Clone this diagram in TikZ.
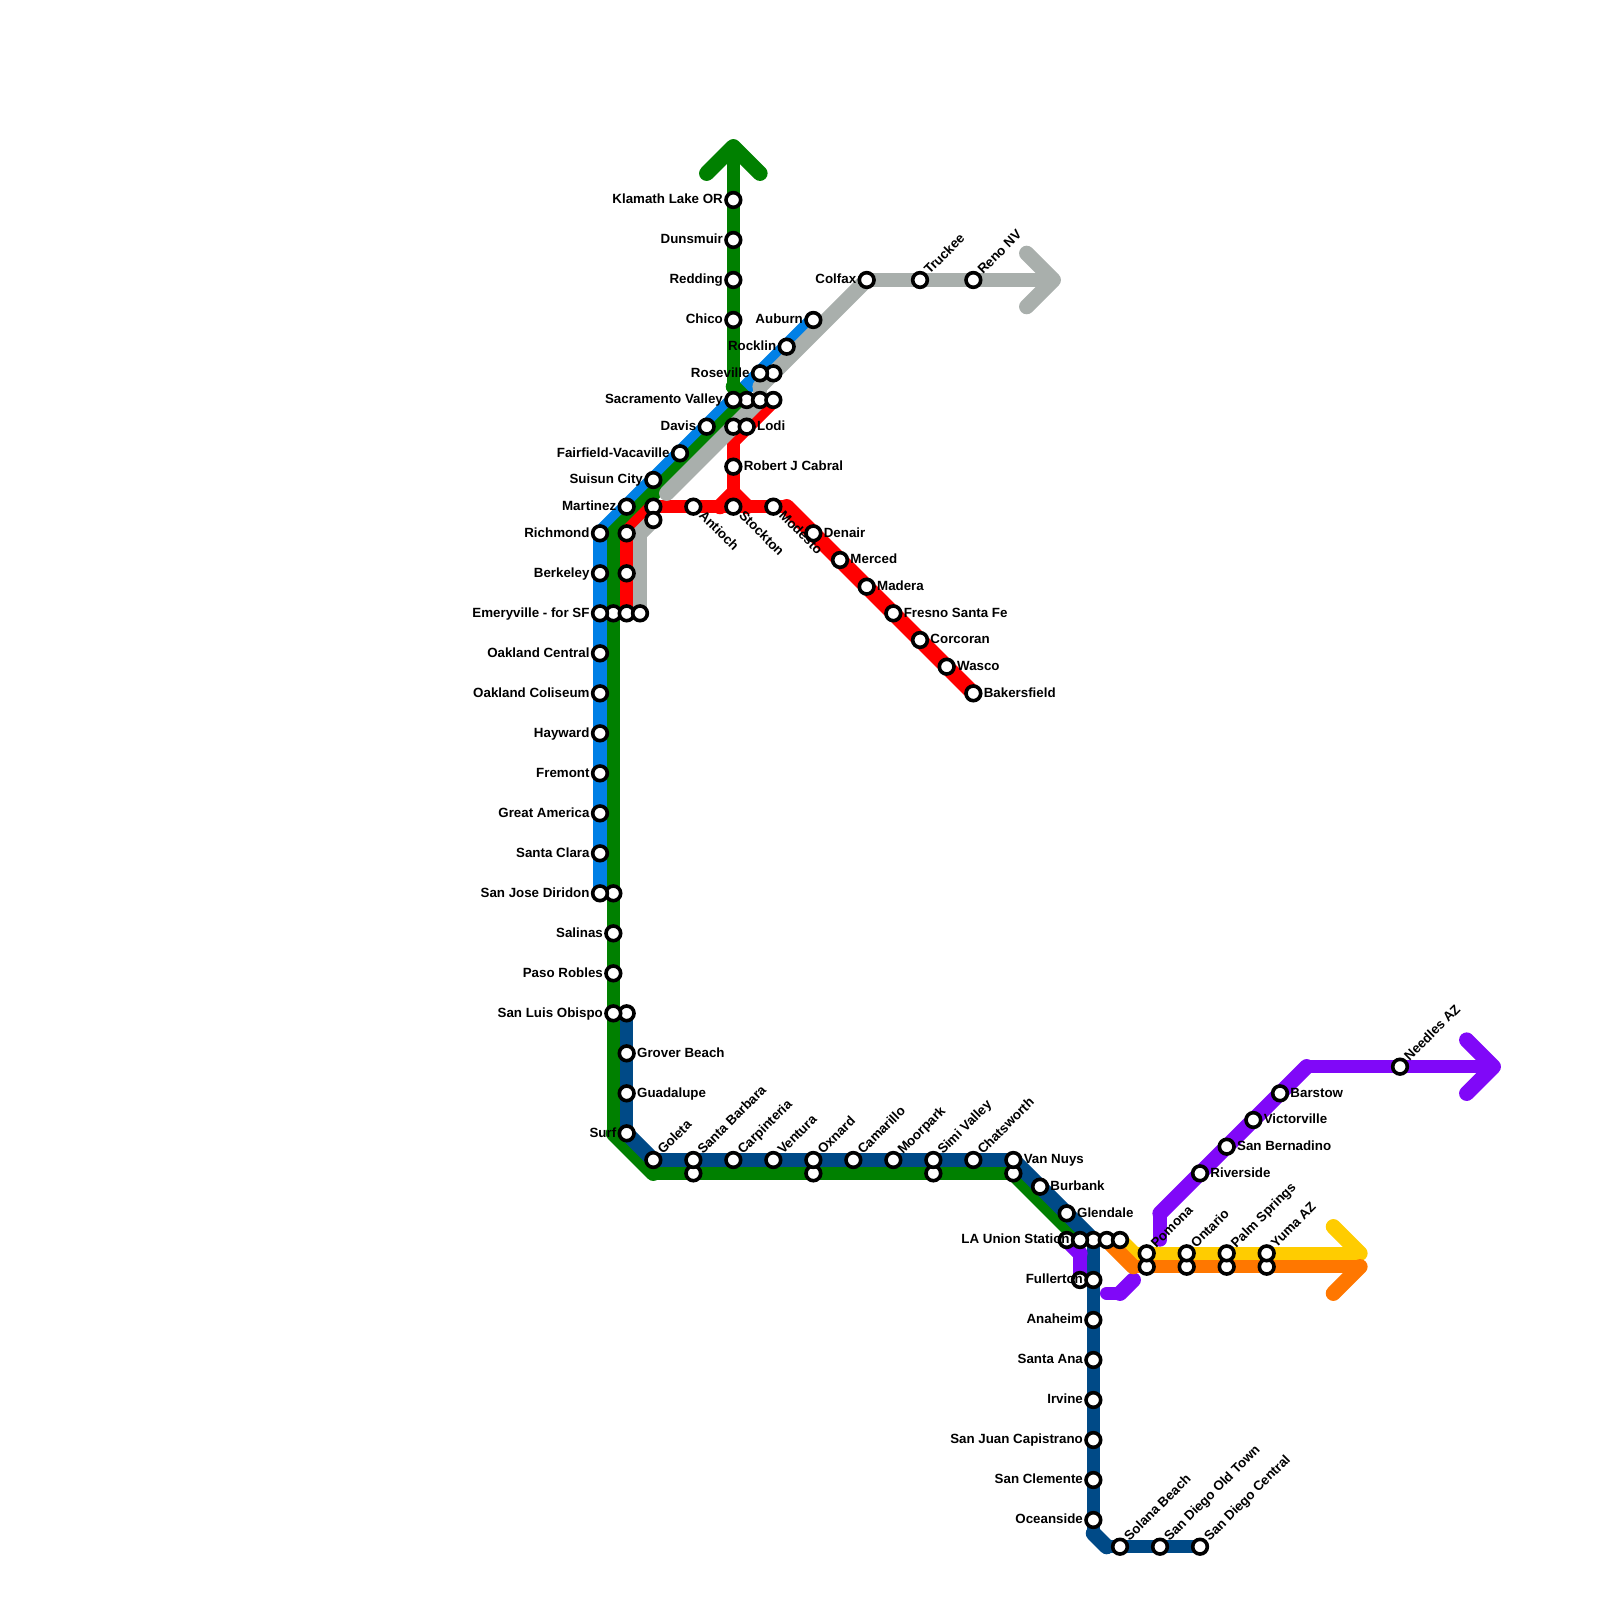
\documentclass[tikz,border=0pt]{standalone}
\usepackage{fontspec}
\setmainfont{Liberation Sans}
\pgfdeclarelayer{lines}
\pgfsetlayers{lines,main}
\begin{document}
\begin{tikzpicture}[
  x=0.2cm, y=-0.2cm,
  route/.style={line width=5.69pt, line cap=round, line join=round},
  slant/.style={line width=6.5pt, line cap=round, line join=round},
  stn/.style={circle, draw=black, fill=white, line width=1.54pt, inner sep=0pt, minimum size=6.27pt},
  lab/.style={font=\fontsize{5.69pt}{6pt}\selectfont\bfseries, inner sep=0pt, text=black},
  labw/.style={lab, anchor=base east, xshift=-4.27pt, yshift=-1.6pt},
  labe/.style={lab, anchor=base west, xshift=4.27pt, yshift=-1.6pt},
  labup/.style={lab, anchor=base west, xshift=4pt, yshift=2pt, rotate=45},
  labdn/.style={lab, anchor=base west, xshift=2pt, yshift=-4pt, rotate=-45}
]
\definecolor{railBlue}{RGB}{0,128,230}
\definecolor{railGreen}{RGB}{0,128,0}
\definecolor{railRed}{RGB}{255,0,0}
\definecolor{railGray}{RGB}{169,175,172}
\definecolor{railNavy}{RGB}{0,74,135}
\definecolor{railPurple}{RGB}{128,8,248}
\definecolor{railYellow}{RGB}{255,204,0}
\definecolor{railOrange}{RGB}{255,119,0}

\useasboundingbox (0,0) rectangle (120,120);

\foreach \id/\x/\y in {sacB/56/30,sacC/57/30,sacD/58/30,rosevilleB/58/28,davisB/55/32,antiochW/49/38,antiochX/49/39,
    richmondB/47/40,berkeleyB/47/43,emeryB/46/46,emeryC/47/46,emeryD/48/46,sanjoseB/46/67,sloB/47/76,
    santabarbB/52/88,oxnardB/61/88,simiB/70/88,vannuysB/76/88,launionA/80/93,launionC/82/93,launionD/83/93,launionE/84/93,
    fullertonA/81/96,pomonaB/86/95,ontarioB/89/95,palmB/92/95,yumaB/95/95} {
  \node[stn] (\id) at (\x,\y) {};
}
\foreach \id/\x/\y/\txt in {klamath/55/15/Klamath Lake OR,dunsmuir/55/18/Dunsmuir,redding/55/21/Redding,chico/55/24/Chico,
    sacA/55/30/Sacramento Valley,colfax/65/21/Colfax,auburn/61/24/Auburn,rocklin/59/26/Rocklin,rosevilleA/57/28/Roseville,
    davis/53/32/Davis,fairfield/51/34/Fairfield-Vacaville,suisun/49/36/Suisun City,martinez/47/38/Martinez,
    richmond/45/40/Richmond,berkeley/45/43/Berkeley,emeryA/45/46/Emeryville - for SF,oakland/45/49/Oakland Central,
    coliseum/45/52/Oakland Coliseum,hayward/45/55/Hayward,fremont/45/58/Fremont,greatam/45/61/Great America,
    santaclara/45/64/Santa Clara,sanjoseA/45/67/San Jose Diridon,salinas/46/70/Salinas,pasorobles/46/73/Paso Robles,
    sloA/46/76/San Luis Obispo,surf/47/85/Surf,launionB/81/93/LA Union Station,fullertonB/82/96/Fullerton,
    anaheim/82/99/Anaheim,santaana/82/102/Santa Ana,irvine/82/105/Irvine,sanjuan/82/108/San Juan Capistrano,
    sanclemente/82/111/San Clemente,oceanside/82/114/Oceanside} {
  \node[stn] (\id) at (\x,\y) {};
  \node[labw] (\id-t) at (\x,\y) {\txt};
}
\foreach \id/\x/\y/\txt in {lodi/56/32/Lodi,cabral/55/35/Robert J Cabral,denair/61/40/Denair,merced/63/42/Merced,
    madera/65/44/Madera,fresno/67/46/Fresno Santa Fe,corcoran/69/48/Corcoran,wasco/71/50/Wasco,bakersfield/73/52/Bakersfield,
    grover/47/79/Grover Beach,guadalupe/47/82/Guadalupe,vannuysA/76/87/Van Nuys,burbank/78/89/Burbank,glendale/80/91/Glendale,
    riverside/90/88/Riverside,sanbern/92/86/San Bernadino,victorville/94/84/Victorville,barstow/96/82/Barstow} {
  \node[stn] (\id) at (\x,\y) {};
  \node[labe] (\id-t) at (\x,\y) {\txt};
}
\foreach \id/\x/\y/\txt in {truckee/69/21/Truckee,reno/73/21/Reno NV,goleta/49/87/Goleta,santabarbA/52/87/Santa Barbara,
    carpinteria/55/87/Carpinteria,ventura/58/87/Ventura,oxnardA/61/87/Oxnard,camarillo/64/87/Camarillo,moorpark/67/87/Moorpark,
    simiA/70/87/Simi Valley,chatsworth/73/87/Chatsworth,pomonaA/86/94/Pomona,ontarioA/89/94/Ontario,palmA/92/94/Palm Springs,
    yumaA/95/94/Yuma AZ,solana/84/116/Solana Beach,oldtown/87/116/San Diego Old Town,sdcentral/90/116/San Diego Central,
    needles/105/80/Needles AZ} {
  \node[stn] (\id) at (\x,\y) {};
  \node[labup] (\id-t) at (\x,\y) {\txt};
}
\foreach \id/\x/\y/\txt in {antioch/52/38/Antioch,stockton/55/38/Stockton,modesto/58/38/Modesto} {
  \node[stn] (\id) at (\x,\y) {};
  \node[labdn] (\id-t) at (\x,\y) {\txt};
}

\coordinate (grayTip) at (79,21);
\coordinate (grayBarbA) at (77,19);
\coordinate (grayBarbB) at (77,23);
\coordinate (grayBend) at (57,29);
\coordinate (grayEnd) at (50,37);
\coordinate (grayLow) at (48,40);
\coordinate (greenTip) at (55,11);
\coordinate (greenBarbA) at (53,13);
\coordinate (greenBarbB) at (57,13);
\coordinate (greenBend) at (55,29);
\coordinate (greenNorth) at (46,40);
\coordinate (greenSouth) at (46,85);
\coordinate (greenCoast) at (49,88);
\coordinate (junction) at (55,37);
\coordinate (junctionW) at (54,38);
\coordinate (junctionE) at (56,38);
\coordinate (redBendA) at (55,33);
\coordinate (redBendB) at (59,38);
\coordinate (navyBend) at (82,115);
\coordinate (navyFoot) at (83,116);
\coordinate (purpleTip) at (112,80);
\coordinate (purpleBarbA) at (110,78);
\coordinate (purpleBarbB) at (110,82);
\coordinate (purpleBend) at (98,80);
\coordinate (purpleKnee) at (87,91);
\coordinate (purpleEnd) at (87,93);
\coordinate (purpleShortA) at (81,94);
\coordinate (purpleStubA) at (85,96);
\coordinate (purpleStubB) at (84,97);
\coordinate (purpleStubC) at (83,97);
\coordinate (yellowBend) at (85,94);
\coordinate (yellowTip) at (102,94);
\coordinate (yellowBarb) at (100,92);
\coordinate (orangeBend) at (85,95);
\coordinate (orangeTip) at (102,95);
\coordinate (orangeBarb) at (100,97);

\begin{pgfonlayer}{lines}
  \draw[route, railBlue] (sanjoseA.center) -- (richmond.center);
  \draw[slant, railBlue] (richmond.center) -- (auburn.center);
  \draw[route, railGreen] (greenTip) -- (greenBend) (greenNorth) -- (greenSouth) (greenCoast) -- (vannuysB.center);
  \draw[slant, railGreen] (greenBarbA) -- (greenTip) -- (greenBarbB) (greenBend) -- (sacB.center) -- (greenNorth)
    (greenSouth) -- (greenCoast) (vannuysB.center) -- (launionB.center);
  \draw[route, railRed] (emeryC.center) -- (richmondB.center) (antiochW.center) -- (redBendB) (junction) -- (redBendA);
  \draw[slant, railRed] (richmondB.center) -- (antiochW.center) (redBendB) -- (bakersfield.center)
    (junctionW) -- (junction) -- (junctionE) (redBendA) -- (sacD.center);
  \draw[route, railGray] (grayTip) -- (colfax.center) (grayBend) -- (sacC.center) (grayLow) -- (emeryD.center);
  \draw[slant, railGray] (grayBarbA) -- (grayTip) -- (grayBarbB) (colfax.center) -- (rosevilleB.center) -- (grayBend)
    (sacC.center) -- (grayEnd) (antiochX.center) -- (grayLow);
  \draw[route, railNavy] (sloB.center) -- (surf.center) (goleta.center) -- (vannuysA.center)
    (launionC.center) -- (navyBend) (navyFoot) -- (sdcentral.center);
  \draw[slant, railNavy] (surf.center) -- (goleta.center) (vannuysA.center) -- (launionC.center) (navyBend) -- (navyFoot);
  \draw[route, railPurple] (purpleTip) -- (purpleBend) (purpleKnee) -- (purpleEnd) (purpleShortA) -- (fullertonA.center)
    (purpleStubB) -- (purpleStubC);
  \draw[slant, railPurple] (purpleBarbA) -- (purpleTip) -- (purpleBarbB) (purpleBend) -- (purpleKnee)
    (launionA.center) -- (purpleShortA) (purpleStubA) -- (purpleStubB);
  \draw[route, railYellow] (yellowBend) -- (yellowTip);
  \draw[slant, railYellow] (launionE.center) -- (yellowBend) (yellowTip) -- (yellowBarb);
  \draw[route, railOrange] (orangeBend) -- (orangeTip);
  \draw[slant, railOrange] (launionD.center) -- (orangeBend) (orangeTip) -- (orangeBarb);
\end{pgfonlayer}
\end{tikzpicture}
\end{document}
